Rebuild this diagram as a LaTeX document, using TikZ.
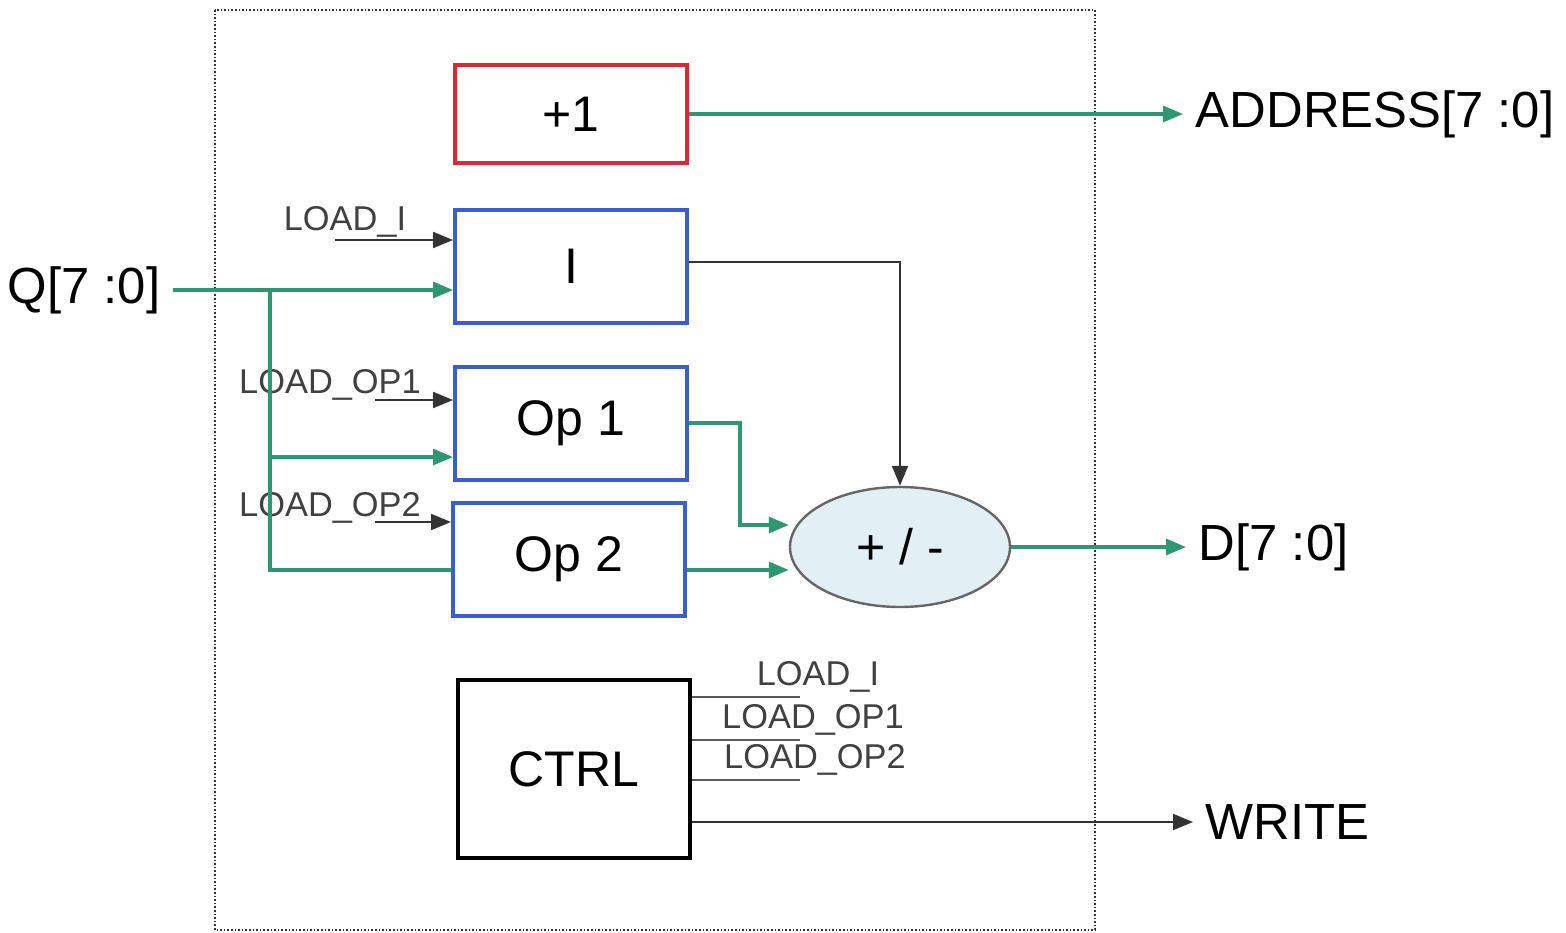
\documentclass[tikz,border=0pt]{standalone}
\usepackage{fontspec}
\setmainfont{Liberation Sans}
\usetikzlibrary{arrows.meta,shapes.geometric}

\definecolor{busgreen}{RGB}{46,150,112}
\definecolor{boxred}{RGB}{220,40,48}
\definecolor{boxblue}{RGB}{60,92,210}
\definecolor{alufill}{RGB}{226,240,246}

\tikzset{
  block/.style={draw, line width=1pt, minimum width=58pt, minimum height=28.25pt, font=\fontsize{12.5}{14}\selectfont}, % 定义方框样式
  alu/.style={ellipse, draw=gray!80!black, fill=alufill, line width=0.6pt, minimum width=55pt, minimum height=30pt, font=\fontsize{12.5}{14}\selectfont}, % 定义运算单元样式
  bus/.style={draw=busgreen, line width=0.8pt, -{Triangle[length=5pt,width=4pt]}}, % 定义总线样式
  wire/.style={draw=black!80, line width=0.5pt}, % 定义信号线样式
  ctl/.style={wire, -{Triangle[length=5pt,width=4pt]}}, % 定义控制线样式
  io/.style={font=\fontsize{12.7}{15}\selectfont, inner sep=3pt}, % 定义端口标签样式
  sig/.style={font=\fontsize{8.6}{10}\selectfont, text=black!75, inner sep=1pt}, % 定义小标签样式
  frame/.style={draw=black!80, line width=0.6pt, dash pattern=on 0.4pt off 0.5pt} % 定义边框样式
}

\begin{document}
\begin{tikzpicture}[x=0.25pt,y=-0.25pt]
    \useasboundingbox (0,0) rectangle (1566,933);
    \draw[frame] (215,10) rectangle (1095,930);

    \node[block, draw=boxred, minimum height=24.5pt] (inc) at (571,114) {+1};
    \node[block, draw=boxblue] (regI) at (571,266) {I};
    \node[block, draw=boxblue] (op1) at (571,423) {Op 1};
    \node[block, draw=boxblue] (op2) at (569,559) {Op 2};
    \node[block, minimum height=44.5pt] (ctrl) at (574,769) {CTRL};
    \node[alu] (sum) at (900,547) {+ / -};

    \node[io, anchor=east] (qin) at (173,290) {Q[7 :0]};
    \node[io, anchor=west] (addr) at (1183,114) {ADDRESS[7 :0]};
    \node[io, anchor=west] (dout) at (1186,547) {D[7 :0]};
    \node[io, anchor=west] (wr) at (1193,822) {WRITE};

    \node[sig] (ldI) at (345,222) {LOAD\_I};
    \node[sig] (ldOp1) at (330,385) {LOAD\_OP1};
    \node[sig] (ldOp2) at (330,508) {LOAD\_OP2};
    \coordinate (ldIend) at (335,240);
    \coordinate (ldOp1end) at (375,400);
    \coordinate (ldOp2end) at (375,522);
    \coordinate (split) at (270,290);

    \draw[bus] (inc.east) -- (addr.west);
    \draw[bus] (qin.east) -- (qin.east -| regI.west);
    \draw[bus] (split |- 0,457) -- (op1.west |- 0,457);
    \draw[busgreen, line width=0.8pt] (split) |- (op2.west |- 0,570);
    \draw[ctl] (ldIend) -- (ldIend -| regI.west);
    \draw[ctl] (ldOp1end) -- (ldOp1end -| op1.west);
    \draw[ctl] (ldOp2end) -- (ldOp2end -| op2.west);

    \draw[bus] (op1.east) -- (740,423) |- (sum.west |- 0,525);
    \draw[bus] (op2.east |- 0,570) -- (sum.west |- 0,570);
    \draw[ctl] (regI.east |- 0,262) -| (sum.north);
    \draw[bus] (sum.east) -- (dout.west);

    \foreach \y/\lx/\i/\txt in {697/818/1/LOAD\_I, 740/813/2/LOAD\_OP1, 780/815/3/LOAD\_OP2} {
      \draw[wire, draw=black!65] (ctrl.east |- 0,\y) -- (800,\y);
      \node[sig, above] (out\i) at (\lx,\y) {\txt};
    }
    \draw[ctl] (ctrl.east |- 0,822) -- (wr.west);
\end{tikzpicture}
\end{document}
